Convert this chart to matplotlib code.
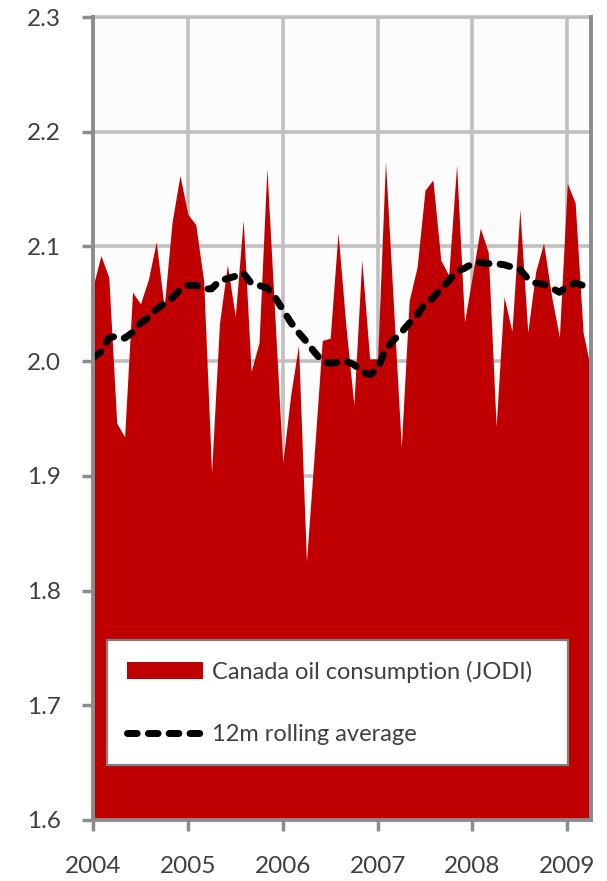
import matplotlib
matplotlib.use("Agg")
import matplotlib.pyplot as plt
from matplotlib.lines import Line2D
from matplotlib.patches import Patch
import numpy as np

plt.rcParams['font.family'] = ['Lato', 'DejaVu Sans']

# Monthly data, Jan 2004 .. Apr 2009 (million b/d)
consumption = [
    2.065, 2.092, 2.073, 1.946, 1.934, 2.060, 2.050, 2.071, 2.104, 2.047, 2.121, 2.162,  # 2004
    2.128, 2.119, 2.070, 1.903, 2.033, 2.084, 2.039, 2.123, 1.991, 2.016, 2.168, 2.040,  # 2005
    1.911, 1.970, 2.014, 1.825, 1.920, 2.018, 2.020, 2.112, 2.030, 1.962, 2.088, 2.002,  # 2006
    2.002, 2.174, 2.050, 1.925, 2.053, 2.082, 2.149, 2.158, 2.088, 2.075, 2.171, 2.034,  # 2007
    2.075, 2.116, 2.095, 1.943, 2.056, 2.026, 2.132, 2.025, 2.078, 2.103, 2.057, 2.021,  # 2008
    2.155, 2.138, 2.025, 1.992,                                                          # 2009
]
rolling = [
    2.003, 2.008, 2.020, 2.022, 2.020, 2.025, 2.033, 2.038, 2.045, 2.050, 2.055, 2.062,
    2.066, 2.066, 2.063, 2.063, 2.070, 2.072, 2.074, 2.077, 2.068, 2.066, 2.064, 2.056,
    2.045, 2.034, 2.025, 2.017, 2.008, 2.000, 1.998, 1.999, 2.000, 1.997, 1.991, 1.988,
    1.993, 2.010, 2.018, 2.025, 2.033, 2.040, 2.050, 2.055, 2.063, 2.070, 2.078, 2.081,
    2.085, 2.086, 2.085, 2.085, 2.084, 2.082, 2.080, 2.072, 2.068, 2.067, 2.064, 2.060,
    2.065, 2.068, 2.066, 2.065,
]
start_year = 2004
year_ticks = [2004, 2005, 2006, 2007, 2008, 2009]
y_ticks = [1.6, 1.7, 1.8, 1.9, 2.0, 2.1, 2.2, 2.3]
label_main = "Canada oil consumption (JODI)"
label_avg = "12m rolling average"

x = start_year + np.arange(len(consumption)) / 12.0

fig = plt.figure(figsize=(6.07, 8.81), dpi=100)
ax = fig.add_axes([93/607, 1-820/881, (591-93)/607, (820-17)/881])
ax.set_facecolor('#FCFCFC')

red = '#C00000'
grid_c = '#C0C0C0'
spine_c = '#8C8C8C'
text_c = '#404040'

ax.fill_between(x, 1.6, consumption, color=red, lw=0, zorder=2)
ax.plot(x, rolling, color='black', lw=5, dashes=(1.4, 1.6),
        dash_capstyle='round', solid_capstyle='round', zorder=3)

ax.set_xlim(x[0], x[-1])
ax.set_ylim(1.6, 2.3)
ax.set_xticks(year_ticks)
ax.set_xticklabels([str(y) for y in year_ticks])
ax.set_yticks(y_ticks)
ax.set_yticklabels([f"{v:.1f}" for v in y_ticks])

ax.grid(True, color=grid_c, lw=2.6, zorder=0)
ax.set_axisbelow(True)

for s in ['left', 'bottom', 'right']:
    ax.spines[s].set_color(spine_c)
    ax.spines[s].set_linewidth(2.8)
    ax.spines[s].set_zorder(4)
ax.spines['top'].set_color(grid_c)
ax.spines['top'].set_linewidth(2.6)

ax.tick_params(axis='both', direction='out', length=8, width=2.5, color=spine_c,
               labelsize=17.5, labelcolor=text_c)
ax.tick_params(axis='x', pad=18)
ax.tick_params(axis='y', pad=15)

handles = [Patch(facecolor=red, edgecolor='none'),
           Line2D([0], [0], color='black', lw=5, dashes=(1.4, 1.6),
                  dash_capstyle='round')]
leg = ax.legend(handles, [label_main, label_avg],
                loc='lower left', bbox_to_anchor=(0.028, 0.0685, 0.926, 0.16),
                mode='expand', fontsize=17, frameon=True, fancybox=False,
                edgecolor='#7F7F7F', framealpha=1, borderpad=0.85,
                labelspacing=1.75, handlelength=3.2, handletextpad=0.42,
                borderaxespad=0)
leg.get_frame().set_linewidth(1.6)
leg.set_zorder(5)
for t in leg.get_texts():
    t.set_color(text_c)

fig.savefig('out.png', dpi=100)
